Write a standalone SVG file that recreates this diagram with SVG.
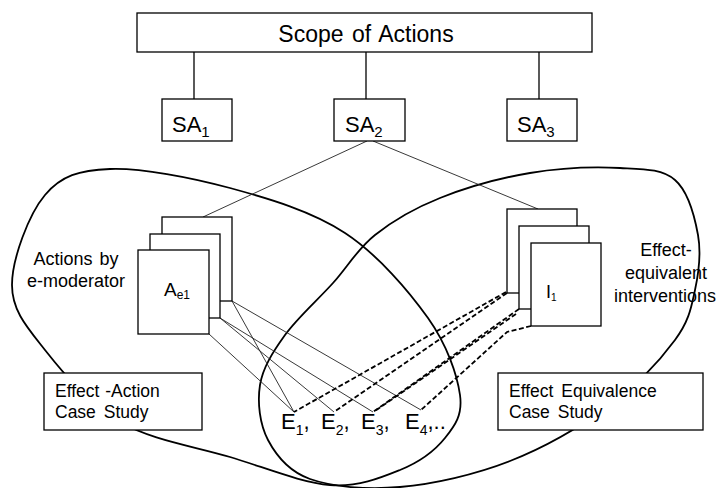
<svg xmlns="http://www.w3.org/2000/svg" width="719" height="488" viewBox="0 0 719 488">
<style>
  .t { font-family: "Liberation Sans", Arial, sans-serif; fill: #000; }
  .box { fill: #fff; stroke: #000; stroke-width: 1.3; }
  .region { fill: none; stroke: #000; stroke-width: 1.8; }
  .solid { stroke: #222; stroke-width: 0.9; fill: none; }
  .dash { stroke: #000; stroke-width: 1.8; stroke-dasharray: 5 2.5; fill: none; }
</style>
<rect width="719" height="488" fill="#fff"/>

<g id="regions">
  <path id="left-region" class="region" d="M12,285 C12,259.2 28.7,214.3 45,195 C61.3,175.7 79.2,170.2 110,169 C140.8,167.8 190.8,177.3 230,188 C269.2,198.7 312,211.3 345,233 C378,254.7 408.8,291 428,318 C447.2,345 457.2,375 460,395 C462.8,415 455,425.5 445,438 C435,450.5 419.2,462.2 400,470 C380.8,477.8 358.3,487.2 330,485 C301.7,482.8 265,467.5 230,457 C195,446.5 150.8,439.8 120,422 C89.2,404.2 63,372.8 45,350 C27,327.2 12,310.8 12,285 Z"/>
  <path id="right-region" class="region" d="M698,235 C701.3,253.3 698.8,272.5 695,290 C691.2,307.5 689.2,320.8 675,340 C660.8,359.2 637.5,384.8 610,405 C582.5,425.2 545,447.3 510,461 C475,474.7 433.3,484 400,487 C366.7,490 332,486.8 310,479 C288,471.2 276.3,455.7 268,440 C259.7,424.3 257.2,402.5 260,385 C262.8,367.5 272.8,352 285,335 C297.2,318 318,299.7 333,283 C348,266.3 357.2,249.2 375,235 C392.8,220.8 414.2,208.3 440,198 C465.8,187.7 500,178 530,173 C560,168 595.8,166.8 620,168 C644.2,169.2 662,168.8 675,180 C688,191.2 694.7,216.7 698,235 Z"/>
</g>

<g id="connectors">
  <line class="solid" x1="194" y1="52" x2="194" y2="99" style="stroke:#000;stroke-width:1.3"/>
  <line class="solid" x1="366" y1="52" x2="366" y2="99" style="stroke:#000;stroke-width:1.3"/>
  <line class="solid" x1="539" y1="52" x2="539" y2="99" style="stroke:#000;stroke-width:1.3"/>
  <line class="solid" x1="367" y1="141" x2="203" y2="217"/>
  <line class="solid" x1="373" y1="141" x2="538" y2="209"/>
  <line class="solid" x1="209" y1="334" x2="294" y2="412"/>
  <line class="solid" x1="220" y1="318" x2="334" y2="412"/>
  <line class="solid" x1="220" y1="318" x2="373" y2="412"/>
  <line class="solid" x1="232" y1="301" x2="294" y2="412"/>
  <line class="solid" x1="232" y1="301" x2="421" y2="410"/>
  <line class="dash" x1="506" y1="292" x2="294" y2="412"/>
  <line class="dash" x1="507" y1="293" x2="334" y2="412"/>
  <line class="dash" x1="519" y1="309" x2="373" y2="412"/>
  <line class="dash" x1="516" y1="314" x2="375" y2="411"/>
  <polyline class="dash" points="531,326 507,332 421,410"/>
</g>

<g id="scope">
  <rect class="box" x="137" y="13" width="455" height="39"/>
  <text class="t" x="366" y="42" font-size="23" text-anchor="middle" word-spacing="2">Scope of Actions</text>
</g>
<g id="sa1">
  <rect class="box" x="162" y="99" width="70" height="42"/>
  <text class="t" x="172" y="132" font-size="22">SA<tspan font-size="15" dy="5">1</tspan></text>
</g>
<g id="sa2">
  <rect class="box" x="334" y="99" width="71" height="42"/>
  <text class="t" x="345" y="132" font-size="22">SA<tspan font-size="15" dy="5">2</tspan></text>
</g>
<g id="sa3">
  <rect class="box" x="507" y="99" width="70" height="42"/>
  <text class="t" x="517" y="132" font-size="22">SA<tspan font-size="15" dy="5">3</tspan></text>
</g>

<g id="actions-stack">
  <rect class="box" x="162" y="217" width="70" height="84"/>
  <rect class="box" x="150" y="234" width="70" height="84"/>
  <rect class="box" x="138" y="250" width="71" height="84"/>
  <text class="t" x="164" y="296" font-size="19">A<tspan font-size="12" dy="3">e1</tspan></text>
</g>
<g id="actions-label">
  <text class="t" x="76" y="265" font-size="18" text-anchor="middle" word-spacing="2">Actions by</text>
  <text class="t" x="76" y="287" font-size="18" text-anchor="middle">e-moderator</text>
</g>

<g id="interventions-stack">
  <rect class="box" x="507" y="209" width="70" height="84"/>
  <rect class="box" x="519" y="226" width="70" height="83"/>
  <rect class="box" x="531" y="243" width="70" height="83"/>
  <text class="t" x="546" y="298" font-size="18">I<tspan font-size="10" dy="3">1</tspan></text>
</g>
<g id="interventions-label">
  <text class="t" x="666" y="256" font-size="18" text-anchor="middle">Effect-</text>
  <text class="t" x="666" y="279" font-size="18" text-anchor="middle">equivalent</text>
  <text class="t" x="665" y="302" font-size="18" text-anchor="middle">interventions</text>
</g>

<g id="effect-action">
  <rect class="box" x="44" y="373" width="158" height="57"/>
  <text class="t" x="55" y="397" font-size="17.5" word-spacing="1">Effect -Action</text>
  <text class="t" x="55" y="418" font-size="17.5" word-spacing="3">Case Study</text>
</g>
<g id="effect-equivalence">
  <rect class="box" x="498" y="373" width="205" height="57"/>
  <text class="t" x="509" y="397" font-size="17.5" word-spacing="3">Effect Equivalence</text>
  <text class="t" x="509" y="418" font-size="17.5" word-spacing="3">Case Study</text>
</g>

<g id="effects">
  <text class="t" x="281" y="429" font-size="22">E<tspan font-size="14" dy="6">1</tspan><tspan dy="-6">,</tspan><tspan x="321">E</tspan><tspan font-size="14" dy="6">2</tspan><tspan dy="-6">,</tspan><tspan x="361">E</tspan><tspan font-size="14" dy="6">3</tspan><tspan dy="-6">,</tspan><tspan x="405">E</tspan><tspan font-size="14" dy="6">4</tspan><tspan dy="-6">,..</tspan></text>
</g>
</svg>
